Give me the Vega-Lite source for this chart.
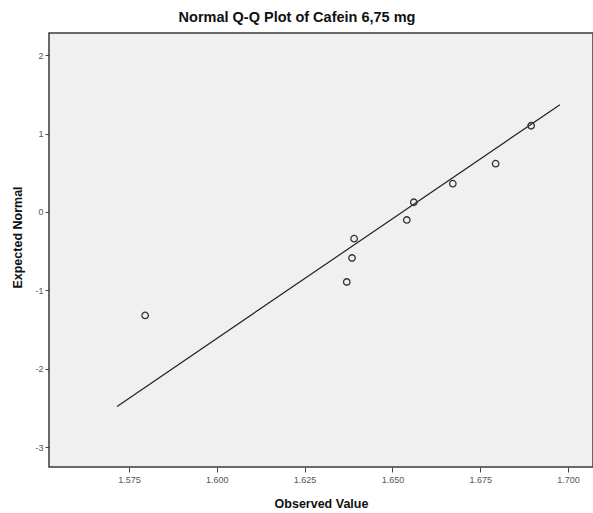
{
  "$schema": "https://vega.github.io/schema/vega-lite/v6.json",
  "autosize": "none",
  "width": 544,
  "height": 434,
  "padding": {"left": 49, "top": 33, "right": 0, "bottom": 46},
  "background": "white",
  "config": {
    "view": {"stroke": "#3a3a3a", "strokeWidth": 1.5, "fill": "#f0f0f0"},
    "font": "Liberation Sans"
  },
  "title": {
    "text": "Normal Q-Q Plot of Cafein 6,75 mg",
    "fontSize": 14.5,
    "fontWeight": "bold",
    "color": "#111",
    "offset": 8,
    "dx": -24
  },
  "datasets": {
    "points": [
      {"observed": 1.5796, "expected": -1.32},
      {"observed": 1.6370, "expected": -0.893},
      {"observed": 1.6385, "expected": -0.587},
      {"observed": 1.6391, "expected": -0.34},
      {"observed": 1.6541, "expected": -0.102},
      {"observed": 1.6561, "expected": 0.124},
      {"observed": 1.6672, "expected": 0.361},
      {"observed": 1.6794, "expected": 0.616},
      {"observed": 1.6895, "expected": 1.10}
    ],
    "fit": [
      {"observed": 1.5716, "expected": -2.48},
      {"observed": 1.6977, "expected": 1.369}
    ]
  },
  "layer": [
    {
      "data": {"name": "fit"},
      "mark": {"type": "line", "color": "#222", "strokeWidth": 1.2, "clip": true},
      "encoding": {
        "x": {"field": "observed", "type": "quantitative"},
        "y": {"field": "expected", "type": "quantitative"}
      }
    },
    {
      "data": {"name": "points"},
      "mark": {"type": "point", "shape": "circle", "filled": false, "color": "#333", "strokeWidth": 1.3, "size": 42, "opacity": 1},
      "encoding": {
        "x": {
          "field": "observed",
          "type": "quantitative",
          "scale": {"domain": [1.55222, 1.70712], "zero": false, "nice": false},
          "axis": {
            "title": "Observed Value",
            "titleFontSize": 12.5,
            "titleFontWeight": "bold",
            "titleColor": "#111",
            "titlePadding": 13,
            "values": [1.575, 1.6, 1.625, 1.65, 1.675, 1.7],
            "format": ".3f",
            "labelFontSize": 9,
            "labelColor": "#555",
            "labelPadding": 3,
            "tickSize": 5,
            "tickColor": "#444",
            "domain": false,
            "grid": false
          }
        },
        "y": {
          "field": "expected",
          "type": "quantitative",
          "scale": {"domain": [-3.253, 2.283], "zero": false, "nice": false},
          "axis": {
            "title": "Expected Normal",
            "titleFontSize": 12.5,
            "titleFontWeight": "bold",
            "titleColor": "#111",
            "titlePadding": 10,
            "titleY": 204,
            "values": [-3, -2, -1, 0, 1, 2],
            "labelExpr": "'' + datum.value",
            "labelFontSize": 9,
            "labelColor": "#555",
            "labelPadding": 2,
            "tickSize": 4,
            "tickColor": "#444",
            "domain": false,
            "grid": false
          }
        }
      }
    }
  ]
}
